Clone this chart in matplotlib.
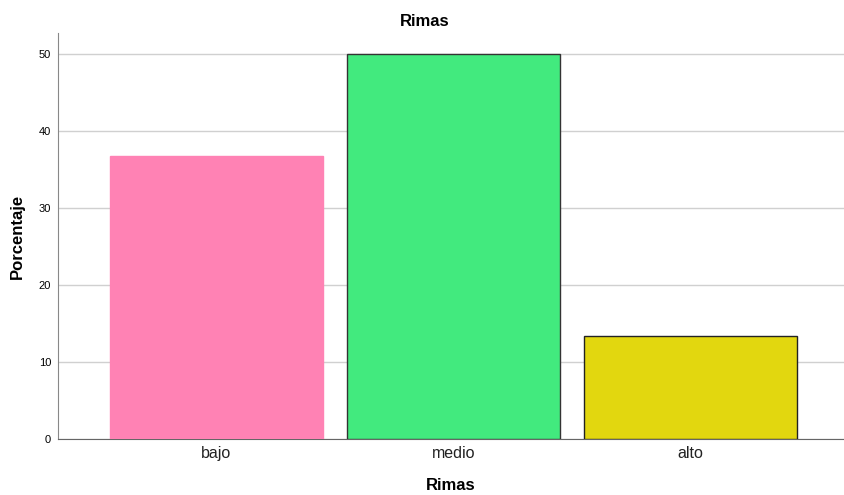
import matplotlib
matplotlib.use("Agg")
import matplotlib.pyplot as plt

plt.rcParams['font.family'] = ['Liberation Sans', 'DejaVu Sans']

categories = ["bajo", "medio", "alto"]
values = [36.67, 50.0, 13.33]
colors = ["#FF82B4", "#42EA7E", "#E2D70F"]
edges = ["#FF82B4", "#333333", "#222222"]
yticks = [0, 10, 20, 30, 40, 50]

W, H = 844, 495
fig = plt.figure(figsize=(W/100, H/100), dpi=100)
ax = fig.add_axes([58/W, (H-439)/H, (844-58)/W, (439-33)/H])
x = list(range(len(categories)))
ax.bar(x, values, width=0.9, color=colors, edgecolor=edges, linewidth=1, zorder=3)
ax.set_xlim(-0.669, 2.648)
ax.set_ylim(0, 52.7)
ax.set_yticks(yticks)
ax.set_yticklabels([str(t) for t in yticks], fontsize=8)
ax.set_xticks(x)
ax.set_xticklabels(categories, fontsize=11.5, color="#222222")
ax.tick_params(axis="both", length=0, pad=5)
ax.grid(axis="y", color="#d0d0d0", linewidth=1, zorder=0)
ax.set_axisbelow(True)
for s in ["top", "right"]:
    ax.spines[s].set_visible(False)
ax.spines["left"].set_color("#888888")
ax.spines["bottom"].set_color("#666666")
ax.set_xlabel("Rimas", fontsize=12, fontweight="bold", labelpad=12)
ax.set_ylabel("Porcentaje", fontsize=12, fontweight="bold", labelpad=10)
fig.text(425/W, 1-22/H, "Rimas", ha="center", va="center", fontsize=12, fontweight="bold")
fig.savefig("out.png", dpi=100)
